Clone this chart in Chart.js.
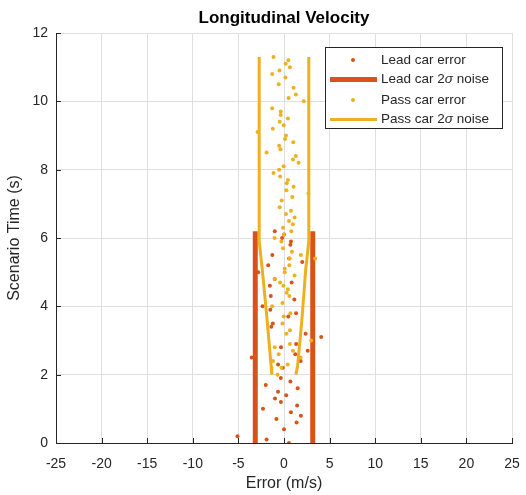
<!DOCTYPE html>
<html>
<head>
<meta charset="utf-8">
<script src="https://cdn.jsdelivr.net/npm/chart.js@4.4.0/dist/chart.umd.min.js"></script>
<style>
    html, body { margin: 0; padding: 0; background: #fff; }
</style>
</head>
<body>
<canvas id="velocityChart" width="526" height="495"></canvas>
<script>
// Lead car error samples (time in s, error in m/s)
const leadTime  = [0.0, 0.1, 0.2, 0.4, 0.6, 0.7, 0.8, 0.9, 1.0, 1.1, 1.2, 1.3, 1.4, 1.5, 1.6, 1.7, 1.8, 1.9,
                   2.2, 2.3, 2.4, 2.5, 2.6, 2.7, 2.8, 2.9, 3.1, 3.2, 3.4, 3.5, 3.7, 3.8, 3.9, 4.0, 4.2, 4.3,
                   4.6, 4.7, 4.8, 5.0, 5.2, 5.3, 5.4, 5.5, 5.8, 5.9, 6.0, 6.1, 6.2];
const leadError = [0.54, -1.91, -5.1, 0.0, 1.38, -0.83, 1.85, 0.76, -2.3, 1.44, -0.34, -0.99, 0.24, -0.65, 1.5, -2.0, 0.7, -0.35,
                   -0.14, -0.65, 1.83, -3.54, 1.24, 2.6, -0.33, 1.33, 4.08, 2.37, -1.39, -1.23, 0.47, 1.32, -1.5, -2.35, 1.13, -1.45,
                   -1.55, 0.84, -1.02, -2.83, -1.73, 2.0, 0.56, -1.28, 0.7, 0.76, -0.21, 0.02, -1.01];

// Pass car error samples
const passTime  = [2.0, 2.2, 2.3, 2.4, 2.5, 2.6, 2.7, 2.8, 2.9, 3.0, 3.2, 3.3, 3.5, 3.7, 3.8, 4.0, 4.1, 4.3, 4.4, 4.5,
                   4.6, 4.7, 4.8, 4.9, 5.0, 5.1, 5.2, 5.4, 5.4, 5.5, 5.6, 5.7, 5.9, 6.0, 6.1, 6.2, 6.3, 6.4, 6.5, 6.6,
                   6.7, 6.8, 6.9, 7.1, 7.2, 7.3, 7.4, 7.5, 7.6, 7.7, 7.8, 7.9, 8.0, 8.1, 8.2, 8.3, 8.4, 8.5, 8.6, 8.7,
                   8.8, 8.9, 9.0, 9.1, 9.2, 9.3, 9.4, 9.5, 9.6, 9.7, 9.8, 10.0, 10.1, 10.2, 10.4, 10.5, 10.7, 10.8, 10.9,
                   11.0, 11.1, 11.2, 11.3];
const passError = [-0.72, -0.28, 0.4, -1.2, 1.82, -0.58, 0.98, -1.01, 0.65, 2.98, 0.26, 0.65, -0.17, -0.03, 0.7, -1.3, -0.17, 0.59, 0.29, 0.43,
                   -0.07, -0.43, -1.01, 1.16, 0.08, 0.08, 0.59, 0.62, 3.41, 1.85, 0.87, -0.11, -0.28, -1.04, 0.0, 0.8, -0.11, 0.98, 0.54, 1.16,
                   0.22, 0.76, -0.47, -0.25, 0.91, 2.68, 0.26, 1.05, 0.3, 0.43, -0.43, -1.15, -0.54, -0.03, 1.6, 0.98, 1.3, -1.91, -0.39, -0.54,
                   1.02, 0.11, 0.22, -2.9, -1.23, -0.03, -0.47, 0.43, -0.36, -0.36, -1.3, 2.17, 0.51, 1.3, 1.05, -0.58, 0.15, -1.3, -0.5,
                   0.65, 0.18, 0.48, -1.15];

// 2-sigma noise bounds
const leadNoiseTime  = [0, 6.2];
const leadNoiseLeft  = [-3.15, -3.15];
const leadNoiseRight = [3.15, 3.15];

const passNoiseTime  = [11.3, 5.9, 5.1, 3.6, 2.25, 2.0];
const passNoiseLeft  = [-2.72, -2.72, -2.39, -1.85, -1.41, -1.34];
const passNoiseRight = [2.72, 2.72, 2.39, 1.96, 1.49, 1.3];

const xTicks = [-25, -20, -15, -10, -5, 0, 5, 10, 15, 20, 25];
const yTicks = [0, 2, 4, 6, 8, 10, 12];

const LEAD_COLOR = '#D95319';
const PASS_COLOR = '#EDB120';
const AXIS_COLOR = '#262626';
const FONT = '"Liberation Sans", Arial, Helvetica, sans-serif';

function toPoints(xs, ys) {
    return xs.map((x, i) => ({ x: x, y: ys[i] }));
}

// Title centred over the axes, inward ticks, and a MATLAB-style legend
const matlabDecor = {
    id: 'matlabDecor',
    afterDraw(chart) {
        const ctx = chart.ctx;
        const area = chart.chartArea;
        const xs = chart.scales.x;
        const ys = chart.scales.y;

        ctx.save();

        // title
        ctx.fillStyle = '#000';
        ctx.font = 'bold 17px ' + FONT;
        ctx.textAlign = 'center';
        ctx.textBaseline = 'middle';
        ctx.fillText('Longitudinal Velocity', (area.left + area.right) / 2, 18);

        // inward ticks
        ctx.strokeStyle = AXIS_COLOR;
        ctx.lineWidth = 1;
        ctx.beginPath();
        xTicks.forEach(v => {
            const px = Math.round(xs.getPixelForValue(v)) + 0.5;
            ctx.moveTo(px, area.bottom);
            ctx.lineTo(px, area.bottom - 5);
        });
        yTicks.forEach(v => {
            const py = Math.round(ys.getPixelForValue(v)) + 0.5;
            ctx.moveTo(area.left, py);
            ctx.lineTo(area.left + 5, py);
        });
        ctx.stroke();

        // legend
        const box = { x: 325, y: 47, w: 177, h: 81 };
        ctx.fillStyle = '#fff';
        ctx.fillRect(box.x, box.y, box.w, box.h);
        ctx.strokeStyle = AXIS_COLOR;
        ctx.lineWidth = 1;
        ctx.strokeRect(box.x + 0.5, box.y + 0.5, box.w, box.h);

        const rows = [
            { kind: 'dot',  color: LEAD_COLOR, parts: ['Lead car error'] },
            { kind: 'line', color: LEAD_COLOR, width: 5, parts: ['Lead car 2', 'σ', ' noise'] },
            { kind: 'dot',  color: PASS_COLOR, parts: ['Pass car error'] },
            { kind: 'line', color: PASS_COLOR, width: 3, parts: ['Pass car 2', 'σ', ' noise'] }
        ];
        const rowY = [60, 79.5, 100, 119.5];
        ctx.textAlign = 'left';
        ctx.textBaseline = 'middle';
        rows.forEach((row, i) => {
            const y = rowY[i];
            if (row.kind === 'dot') {
                ctx.fillStyle = row.color;
                ctx.beginPath();
                ctx.arc(353, y, 2, 0, Math.PI * 2);
                ctx.fill();
            } else {
                ctx.strokeStyle = row.color;
                ctx.lineWidth = row.width;
                ctx.beginPath();
                ctx.moveTo(330, y);
                ctx.lineTo(377, y);
                ctx.stroke();
            }
            let tx = 381;
            ctx.fillStyle = AXIS_COLOR;
            row.parts.forEach(part => {
                ctx.font = (part === 'σ' ? 'italic ' : '') + '13.5px ' + FONT;
                ctx.fillText(part, tx, y);
                tx += ctx.measureText(part).width;
            });
        });

        ctx.restore();
    }
};

const ctx = document.getElementById('velocityChart');

new Chart(ctx, {
    type: 'scatter',
    data: {
        datasets: [{
            label: 'Lead car error',
            data: toPoints(leadError, leadTime),
            backgroundColor: LEAD_COLOR,
            borderWidth: 0,
            pointRadius: 2,
            order: 6
        }, {
            label: 'Lead car 2σ noise',
            data: toPoints(leadNoiseLeft, leadNoiseTime),
            showLine: true,
            borderColor: LEAD_COLOR,
            borderWidth: 5,
            pointRadius: 0,
            order: 5
        }, {
            label: 'Lead car 2σ noise (right)',
            data: toPoints(leadNoiseRight, leadNoiseTime),
            showLine: true,
            borderColor: LEAD_COLOR,
            borderWidth: 5,
            pointRadius: 0,
            order: 4
        }, {
            label: 'Pass car error',
            data: toPoints(passError, passTime),
            backgroundColor: PASS_COLOR,
            borderWidth: 0,
            pointRadius: 2,
            order: 3
        }, {
            label: 'Pass car 2σ noise',
            data: toPoints(passNoiseLeft, passNoiseTime),
            showLine: true,
            borderColor: PASS_COLOR,
            borderWidth: 3,
            pointRadius: 0,
            order: 2
        }, {
            label: 'Pass car 2σ noise (right)',
            data: toPoints(passNoiseRight, passNoiseTime),
            showLine: true,
            borderColor: PASS_COLOR,
            borderWidth: 3,
            pointRadius: 0,
            order: 1
        }]
    },
    options: {
        responsive: false,
        animation: false,
        layout: {
            padding: { top: 33, right: 14, bottom: 0, left: 0 }
        },
        scales: {
            x: {
                type: 'linear',
                min: -25,
                max: 25,
                afterBuildTicks: scale => { scale.ticks = xTicks.map(v => ({ value: v })); },
                afterFit: scale => {
                    scale.height = 52;
                    scale.paddingLeft = 0;
                    scale.paddingRight = 0;
                },
                grid: { color: '#dfdfdf', drawTicks: false },
                border: { color: AXIS_COLOR, width: 1 },
                ticks: { color: AXIS_COLOR, font: { family: FONT, size: 14 }, padding: 13, maxRotation: 0 },
                title: {
                    display: true,
                    text: 'Error (m/s)',
                    color: AXIS_COLOR,
                    font: { family: FONT, size: 16 },
                    padding: { top: 0, bottom: 2 }
                }
            },
            y: {
                type: 'linear',
                min: 0,
                max: 12,
                afterBuildTicks: scale => { scale.ticks = yTicks.map(v => ({ value: v })); },
                afterFit: scale => { scale.width = 56; },
                grid: { color: '#dfdfdf', drawTicks: false },
                border: { color: AXIS_COLOR, width: 1 },
                ticks: { color: AXIS_COLOR, font: { family: FONT, size: 14 }, padding: 8 },
                title: {
                    display: true,
                    text: 'Scenario Time (s)',
                    color: AXIS_COLOR,
                    font: { family: FONT, size: 16 },
                    padding: { top: 5, bottom: 0 }
                }
            }
        },
        plugins: {
            legend: { display: false },
            tooltip: { enabled: false }
        }
    },
    plugins: [matlabDecor]
});
</script>
</body>
</html>
